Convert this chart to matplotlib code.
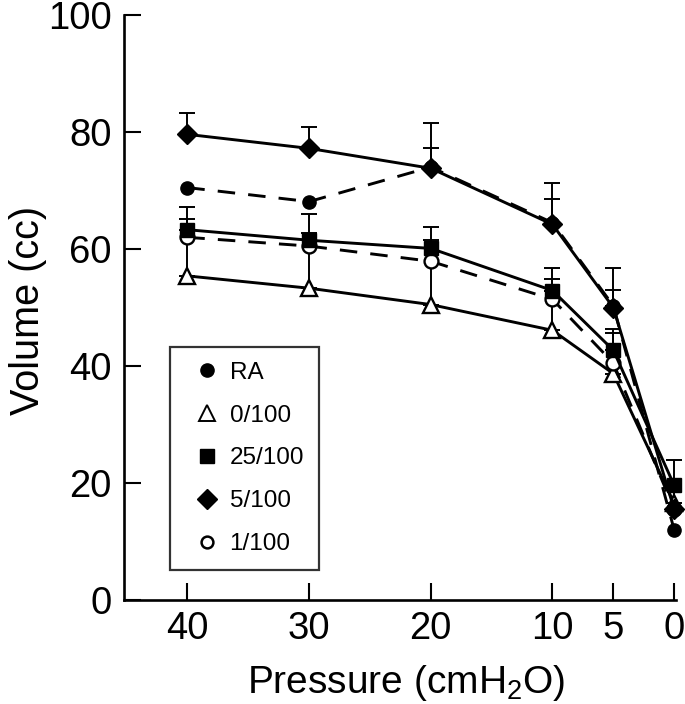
import numpy as np
import matplotlib
matplotlib.use("Agg")
import matplotlib.pyplot as plt
from matplotlib.lines import Line2D

plt.rcParams['font.family'] = ['Liberation Sans', 'DejaVu Sans']
plt.rcParams['mathtext.fontset'] = 'custom'
plt.rcParams['mathtext.rm'] = 'Liberation Sans'
plt.rcParams['mathtext.default'] = 'regular'

# ---------------- data ----------------
pressure = [40, 30, 20, 10, 5, 0]
xtick_labels = ['40', '30', '20', '10', '5', '0']

ra_vol = [70.5, 68.1, 74.0, 64.5, 50.3, 12.0]
ra_err_top = [np.nan, np.nan, 77.3, 68.6, 53.0, np.nan]

o0_vol = [55.4, 53.3, 50.5, 46.1, 38.7, 16.5]          # 0/100
o0_err_top = [65.2, 62.8, 61.5, 54.8, 45.6, 18.8]

o25_vol = [63.3, 61.5, 60.1, 52.9, 42.7, 19.6]         # 25/100
o25_err_top = [67.1, 66.0, 63.8, 56.7, 46.4, 23.9]

o5_vol = [79.6, 77.2, 73.8, 64.2, 50.0, 15.5]          # 5/100
o5_err_top = [83.2, 80.8, 81.6, 71.3, 56.8, np.nan]

o1_vol = [62.0, 60.5, 57.9, 51.4, 40.5, 15.5]          # 1/100
o1_err_top = [np.nan] * 6

legend_labels = ['RA', '0/100', '25/100', '5/100', '1/100']

# ---------------- figure ----------------
W, H = 685, 704
fig = plt.figure(figsize=(W / 100, H / 100), dpi=100)
ax = fig.add_axes([124 / W, 1 - 600 / H, (676 - 124) / W, (600 - 15) / H])

LW = 2.1
dash = (0, (6, 4.5))

series = [
    (ra_vol, ra_err_top, 4, dict(marker='o', ms=9.5, mfc='black', mec='black', ls=dash)),
    (o0_vol, o0_err_top, 3, dict(marker='^', ms=12, mfc='white', mec='black', mew=1.7, ls='-')),
    (o25_vol, o25_err_top, 4, dict(marker='s', ms=10, mfc='black', mec='black', ls='-')),
    (o5_vol, o5_err_top, 4, dict(marker='D', ms=10, mfc='black', mec='black', ls='-')),
    (o1_vol, o1_err_top, 3, dict(marker='o', ms=10, mfc='white', mec='black', mew=1.7, ls=dash)),
]

x = np.array(pressure, dtype=float)
for vol, top, z, st in series:
    vol = np.array(vol, dtype=float)
    top = np.array(top, dtype=float)
    m = ~np.isnan(top)
    if m.any():
        ax.errorbar(x[m], vol[m], yerr=[np.zeros(m.sum()), top[m] - vol[m]],
                    fmt='none', ecolor='black', elinewidth=1.4, capsize=5.5,
                    capthick=1.4, zorder=2, clip_on=False)
for vol, top, z, st in series:
    ax.plot(x, vol, color='black', lw=LW, zorder=z, clip_on=False, **st)

ax.set_xlim(45.2, -0.15)
ax.set_ylim(0, 100)
ax.set_xticks(pressure)
ax.set_xticklabels(xtick_labels)
ax.set_yticks([0, 20, 40, 60, 80, 100])

for s in ['top', 'right']:
    ax.spines[s].set_visible(False)
for s in ['left', 'bottom']:
    ax.spines[s].set_linewidth(1.9)
ax.tick_params(direction='in', length=12, width=1.5, labelsize=27.5, pad=8)
ax.tick_params(axis='y', pad=9)

fig.text(28 / W, 1 - 310 / H, 'Volume (cc)', rotation=90, ha='center', va='center', fontsize=28.5)
fig.text(406 / W, 1 - 683 / H, 'Pressure (cmH$_2$O)', ha='center', va='center', fontsize=28)

handles = [
    Line2D([], [], ls='none', marker='o', ms=9.5, mfc='black', mec='black'),
    Line2D([], [], ls='none', marker='^', ms=12, mfc='white', mec='black', mew=1.4),
    Line2D([], [], ls='none', marker='s', ms=9.5, mfc='black', mec='black'),
    Line2D([], [], ls='none', marker='D', ms=10, mfc='black', mec='black'),
    Line2D([], [], ls='none', marker='o', ms=8.5, mfc='white', mec='black', mew=1.8),
]
leg = ax.legend(handles, legend_labels, loc='upper left',
                bbox_to_anchor=((170 - 124) / 552, (600 - 347) / 585),
                borderaxespad=0, fontsize=17.5, frameon=True, fancybox=False,
                edgecolor='black', handlelength=1.85, handletextpad=0.0,
                labelspacing=0.86, borderpad=0.6)
leg.get_frame().set_linewidth(1.6)
leg.set_zorder(5)

fig.savefig('out.png', dpi=100, facecolor='white')
